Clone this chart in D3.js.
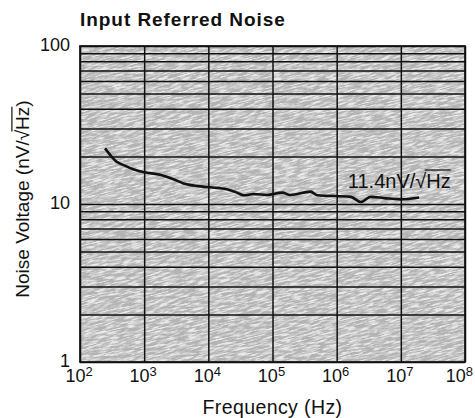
<!DOCTYPE html>
<html>
<head>
<meta charset="utf-8">
<script src="https://cdn.jsdelivr.net/npm/d3@7"></script>
<style>
  html, body { margin: 0; padding: 0; background: #fff; }
  svg { display: block; font-family: "Liberation Sans", Arial, sans-serif; }
</style>
</head>
<body>
<div id="chart"></div>
<script>
// (Hz, nV/√Hz)
const freq = [245, 300, 374, 500, 680, 1000, 1780, 2800, 4110, 9550, 19600, 28000, 35600, 51000, 82600, 142000, 190000, 393000, 500000, 1660000, 2370000, 3390000, 5500000, 10000000, 19300000];
const noise = [22.5, 20.3, 18.5, 17.5, 16.6, 15.9, 15.3, 14.4, 13.5, 12.8, 12.4, 11.8, 11.35, 11.56, 11.4, 11.8, 11.4, 11.97, 11.35, 11.1, 10.3, 11.1, 10.9, 10.7, 11.0];

const xTicks = [1e2, 1e3, 1e4, 1e5, 1e6, 1e7, 1e8];
const xExponents = ["2", "3", "4", "5", "6", "7", "8"];
const yTicks = [1, 10, 100];
const yTickLabels = ["1", "10", "100"];

const W = 475, H = 418;
const margin = { top: 46, right: 10, bottom: 56, left: 80 };
const innerW = W - margin.left - margin.right;
const innerH = H - margin.top - margin.bottom;

const svg = d3.select("#chart").append("svg")
  .attr("width", W)
  .attr("height", H);

// speckled grey paper texture
const defs = svg.append("defs");
const filt = defs.append("filter").attr("id", "speck")
  .attr("x", 0).attr("y", 0).attr("width", 1).attr("height", 1);
filt.append("feTurbulence")
  .attr("type", "fractalNoise")
  .attr("baseFrequency", "0.09 0.8")
  .attr("numOctaves", 3)
  .attr("seed", 7)
  .attr("result", "n");
filt.append("feColorMatrix")
  .attr("in", "n")
  .attr("type", "matrix")
  .attr("values", "0 0 0 0 0.45  0 0 0 0 0.45  0 0 0 0 0.45  4 0 0 0 -1.35");
defs.append("clipPath").attr("id", "plotclip")
  .append("rect").attr("width", innerW).attr("height", innerH);

const g = svg.append("g")
  .attr("transform", `translate(${margin.left},${margin.top})`);

const x = d3.scaleLog().domain([1e2, 1e8]).range([0, innerW]);
const y = d3.scaleLog().domain([1, 100]).range([innerH, 0]);

// background
const bg = g.append("g").attr("clip-path", "url(#plotclip)");
bg.append("rect").attr("width", innerW).attr("height", innerH).attr("fill", "#e9e9e9");
bg.append("g")
  .attr("transform", `rotate(-14 ${innerW / 2} ${innerH / 2})`)
  .append("rect")
  .attr("x", -120).attr("y", -120)
  .attr("width", innerW + 240).attr("height", innerH + 240)
  .attr("filter", "url(#speck)");

// horizontal grid at every minor value
const yGrid = y.ticks();
g.append("g")
  .call(d3.axisLeft(y).tickValues(yGrid).tickSize(-innerW).tickFormat(""))
  .call(ax => ax.select(".domain").remove())
  .call(ax => ax.selectAll(".tick line").attr("stroke", "#111").attr("stroke-width", 1.5));

// vertical grid at decades
g.append("g")
  .attr("transform", `translate(0,${innerH})`)
  .call(d3.axisBottom(x).tickValues(xTicks).tickSize(-innerH).tickFormat(""))
  .call(ax => ax.select(".domain").remove())
  .call(ax => ax.selectAll(".tick line").attr("stroke", "#111").attr("stroke-width", 1.5));

g.append("rect")
  .attr("width", innerW).attr("height", innerH)
  .attr("fill", "none").attr("stroke", "#111").attr("stroke-width", 1.7);

// curve
const line = d3.line()
  .x((d, i) => x(freq[i]))
  .y(d => y(d))
  .curve(d3.curveMonotoneX);
g.append("path")
  .datum(noise)
  .attr("fill", "none")
  .attr("stroke", "#111")
  .attr("stroke-width", 2.6)
  .attr("stroke-linejoin", "round")
  .attr("d", line);

// y tick labels
g.append("g").selectAll("text")
  .data(yTicks)
  .join("text")
  .attr("x", -10)
  .attr("y", d => y(d))
  .attr("dy", "0.3em")
  .attr("text-anchor", "end")
  .attr("font-size", 18)
  .attr("fill", "#111")
  .text((d, i) => yTickLabels[i]);

// x tick labels 10^n
const xl = g.append("g").selectAll("text")
  .data(xTicks)
  .join("text")
  .attr("x", d => x(d))
  .attr("y", innerH + 20)
  .attr("text-anchor", "middle")
  .attr("font-size", 18)
  .attr("fill", "#111");
xl.append("tspan").text("10");
xl.append("tspan")
  .attr("font-size", 13)
  .attr("dy", "-0.5em")
  .text((d, i) => xExponents[i]);
// keep the last label inside the window
xl.attr("x", function(d) {
  const half = this.getComputedTextLength() / 2;
  return Math.min(x(d) - 1, W - margin.left - 2 - half);
});

// title
svg.append("text")
  .attr("x", margin.left)
  .attr("y", 26)
  .attr("font-size", 19)
  .attr("font-weight", "bold")
  .attr("letter-spacing", 0.95)
  .attr("fill", "#111")
  .text("Input Referred Noise");

// x-axis title
svg.append("text")
  .attr("x", margin.left + innerW / 2)
  .attr("y", 414)
  .attr("text-anchor", "middle")
  .attr("font-size", 19.5)
  .attr("letter-spacing", 0.4)
  .attr("fill", "#111")
  .text("Frequency (Hz)");

// text with a radical sign whose bar runs over the last part
function radicalText(parent, before, under, after, size) {
  const t = parent.append("text")
    .attr("font-size", size)
    .attr("fill", "#111");
  t.append("tspan").text(before + "√");
  t.append("tspan").text(under);
  if (after) t.append("tspan").text(after);
  return t;
}
function drawBar(parent, t, start, count, size) {
  const node = t.node();
  const x0 = node.getStartPositionOfChar(start).x - 1.5;
  const x1 = node.getEndPositionOfChar(start + count - 1).x;
  const by = node.getStartPositionOfChar(start).y - size * 0.9;
  parent.append("line")
    .attr("x1", x0).attr("x2", x1)
    .attr("y1", by).attr("y2", by)
    .attr("stroke", "#111").attr("stroke-width", 1.2);
}

// y-axis title
const ytG = svg.append("g").attr("transform", `translate(29,199) rotate(-90)`);
const yt = radicalText(ytG, "Noise Voltage (nV/", "Hz", ")", 19).attr("text-anchor", "middle");
drawBar(ytG, yt, "Noise Voltage (nV/√".length, 2, 19);

// annotation
const annG = g.append("g");
const ann = radicalText(annG, "11.4nV/", "Hz", "", 20)
  .attr("x", x(6e7))
  .attr("y", y(11.4) - 7)
  .attr("text-anchor", "end");
drawBar(annG, ann, "11.4nV/√".length, 2, 20);
</script>
</body>
</html>
